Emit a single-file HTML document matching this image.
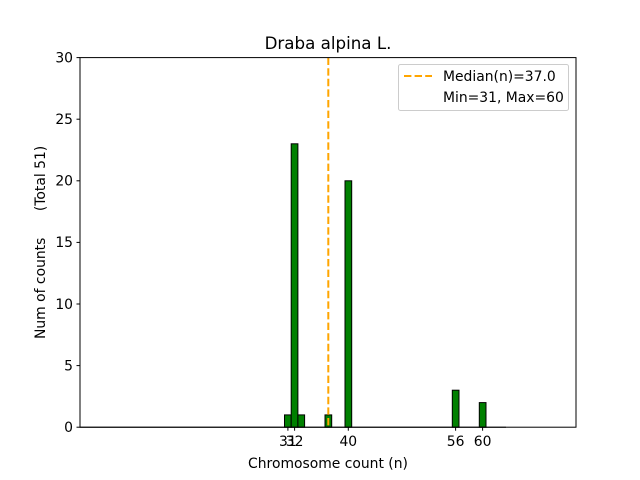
<!DOCTYPE html>
<html><head><style>body{margin:0;background:#fff}svg{display:block}text{font-family:"DejaVu Sans","Liberation Sans",sans-serif;fill:#000}</style></head>
<body>
<svg width="640" height="480" viewBox="0 0 640 480" xmlns="http://www.w3.org/2000/svg">
<rect width="640" height="480" fill="#fff"/>
<g stroke="#000" stroke-width="1" fill="#008000">
<rect x="284.5" y="414.9" width="6.7" height="12.3"/>
<rect x="291.2" y="143.8" width="6.7" height="283.4"/>
<rect x="297.9" y="414.9" width="6.7" height="12.3"/>
<rect x="325.0" y="414.9" width="6.7" height="12.3"/>
<rect x="345.0" y="180.8" width="6.7" height="246.4"/>
<rect x="452.3" y="390.2" width="6.7" height="37"/>
<rect x="479.3" y="402.6" width="6.7" height="24.6"/>
</g>
<line x1="80" y1="427.2" x2="506" y2="427.2" stroke="#000"/>
<line x1="328.3" y1="57.6" x2="328.3" y2="427.2" stroke="#ffa500" stroke-width="2" stroke-dasharray="7.4,3.2"/>
<rect x="80" y="57.6" width="496" height="369.6" fill="none" stroke="#000" stroke-width="1"/>
<g stroke="#000">
<line x1="80" y1="427.2" x2="76.5" y2="427.2"/><line x1="80" y1="365.6" x2="76.5" y2="365.6"/><line x1="80" y1="304" x2="76.5" y2="304"/><line x1="80" y1="242.4" x2="76.5" y2="242.4"/><line x1="80" y1="180.8" x2="76.5" y2="180.8"/><line x1="80" y1="119.2" x2="76.5" y2="119.2"/><line x1="80" y1="57.6" x2="76.5" y2="57.6"/>
<line x1="287.9" y1="427.2" x2="287.9" y2="430.7"/><line x1="294.6" y1="427.2" x2="294.6" y2="430.7"/><line x1="348.3" y1="427.2" x2="348.3" y2="430.7"/><line x1="455.6" y1="427.2" x2="455.6" y2="430.7"/><line x1="482.6" y1="427.2" x2="482.6" y2="430.7"/>
</g>
<g font-size="13.9" text-anchor="end">
<text x="73" y="432">0</text><text x="73" y="370.4">5</text><text x="73" y="308.8">10</text><text x="73" y="247.2">15</text><text x="73" y="185.6">20</text><text x="73" y="124">25</text><text x="73" y="62.4">30</text>
</g>
<g font-size="13.9" text-anchor="middle">
<text x="287.9" y="446">31</text><text x="294.6" y="446">32</text><text x="348.3" y="446">40</text><text x="455.6" y="446">56</text><text x="482.6" y="446">60</text>
<text x="328" y="468">Chromosome count (n)</text>
<text x="328" y="49" font-size="16.7">Draba alpina L.</text>
</g>
<text transform="translate(45,242.4) rotate(-90)" font-size="13.9" text-anchor="middle" xml:space="preserve">Num of counts      (Total 51)</text>
<rect x="398.5" y="64.5" width="170" height="46" rx="2" fill="#fff" stroke="#ccc"/>
<line x1="404" y1="76" x2="432" y2="76" stroke="#ffa500" stroke-width="2" stroke-dasharray="7.4,3.2"/>
<text x="443" y="81" font-size="13.9">Median(n)=37.0</text>
<text x="443" y="102" font-size="13.9">Min=31, Max=60</text>
</svg>
</body></html>
